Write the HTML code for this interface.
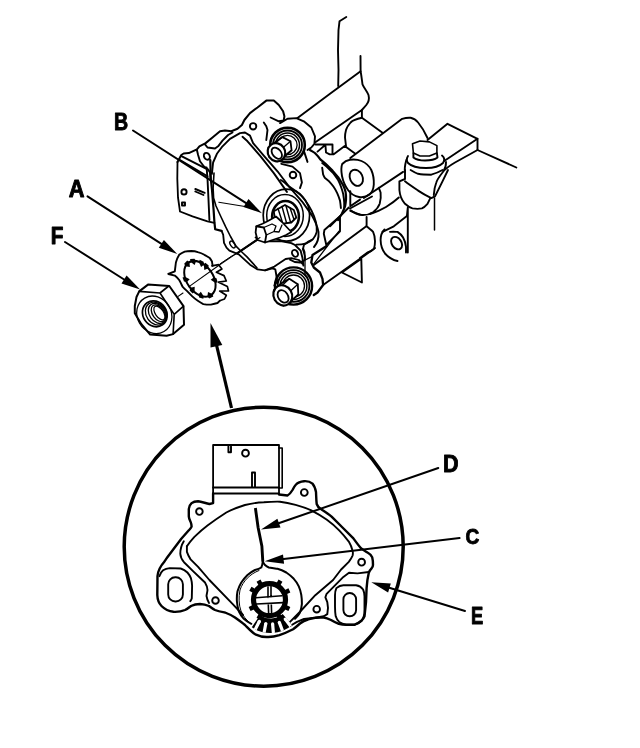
<!DOCTYPE html>
<html><head><meta charset="utf-8"><style>
html,body{margin:0;padding:0;background:#fff;width:640px;height:748px;overflow:hidden}
svg{display:block}
text{font-family:"Liberation Sans",sans-serif;font-weight:bold;font-size:100px;fill:#000;stroke:#000;stroke-width:4px;stroke-linejoin:round}
</style></head><body>
<svg width="640" height="748" viewBox="0 0 640 748">
<rect width="640" height="748" fill="#fff"/>
<g fill="none" stroke="#000" stroke-linejoin="round" stroke-linecap="round">
<circle cx="263.7" cy="546.7" r="139.5" stroke-width="3.5"/>
<g id="inset" stroke-width="1.9">
<!-- connector -->
<path d="M213.1 494 V445 H279 V493.5" stroke-width="1.8"/>
<path d="M213.1 487.5 H279 M213.1 493.5 H279"/>
<path d="M279 448 H282.2 V488 H279" stroke-width="1.6"/>
<path d="M228.4 452 V446.5 M231 452 V446.5 M228.4 452.3 H231"/>
<circle cx="245.5" cy="453.2" r="3.4"/>
<path d="M252 487 V472.5 H255 V487"/>
<!-- housing outline -->
<path stroke-width="2.4" d="M213.1 493.5 L213.1 503.1 L209.4 504 C205 503 201 501.5 198.1 501.3 C195 501.3 193 502 191.6 503.1 C189.5 505 188.8 506.5 188.8 509 L188.8 516.3 C189 519 190 520.5 190.6 521.9 C191.3 523.5 191.6 525 191.6 526.6 C191 528 190 529 188.8 530.3 L181.3 538.8 L170 553.8 C167.5 557 166 559 164.5 561.5 C160.5 566 158 570.5 157.5 576 L157.3 595 C157.5 600 159 603.5 161.5 606 C164.5 609 168.5 611.2 173.5 611.8 C177.5 612 181.5 611.5 185 610 C187.5 608.8 189.3 607.2 191 606 C194 604.5 197 604 200 604 C203.5 604.2 206.5 605 209 606 C211 607.5 213 609 215 610 C218.5 611.5 222 612 225 612.5 C229 614 232 615.5 235 617.5 C238.5 620 242 622.5 245 625 C248.5 628.5 251.5 632 255.3 634.3 C259 636 263 637 266.5 637 C271 637.3 275 636.6 279.4 635.2 C284 633.5 288.5 631.5 293.1 629.2 C295.5 627.5 297.8 625.5 300 623.5 C302.5 621.5 305 620.2 308 619.5 C310.5 618.5 313 618 315.3 617.7 C318 617.4 321 617.4 323.8 617.5 C326.5 618 328.8 619 331 620 C333.5 621.5 336 622.8 338.8 623.8 C341.5 624.5 344 624.7 346.3 624.7 C349 624.8 352 624.8 354.7 624.7 C357.5 623.5 360 622 361.7 620.5 C363.2 619 364 617.5 364.5 616.3 L366 602.2 L366.6 588.1 C367 582 368 576 368.8 572.7 C369.5 571 370.5 569.5 371.6 568.4 C372.5 567.2 373 566 373 565 C373 562.5 372.8 559.5 372.2 557.2 C371 555 369.3 553.5 367.5 552.5 C365.5 551.2 363.3 550 361.3 548.6 C358.5 545.5 356 542 353.4 538.4 L342.5 527.5 L331.6 516.6 C328 513.5 324 511 320.6 508.8 C318.5 507.5 317.2 505.5 316.7 504 C316.2 500 316.2 495.5 316 492 C315.2 488 314.2 485.5 312.5 483.6 C310 481.5 307 481 304 481.2 C300 481.5 297.5 482.8 296 484.5 C294.5 486 293.5 488 292.5 490 C291 492.5 289.5 494.5 287.5 495.5 L279 494.5"/>
<circle cx="199.4" cy="511.6" r="3.3"/>
<circle cx="304.3" cy="492.5" r="3.4"/>
<circle cx="361.6" cy="562.2" r="3.4"/>
<circle cx="316.7" cy="609.2" r="3.3"/>
<circle cx="215.5" cy="600.5" r="3.3"/>
<!-- left lobe boss -->
<path d="M159.4 576.2 C160.5 573.5 161.5 571.5 163.1 570.3 C165 569 167.2 568.3 169.7 568.1 L180.7 568.5 C183.5 569.3 185.6 570.7 187.4 572.5 C189 574.3 190.3 576.3 191 578.4 C191.7 580.8 192 583.2 192.1 585.7 L191.8 598.2 C191.5 599.3 191 600.3 190.3 601.2" stroke-width="1.9"/>
<rect x="168.2" y="577.3" width="14.7" height="24.2" rx="7" ry="7"/>
<!-- right lobe boss -->
<path d="M336.4 588.1 C338.5 586.3 341 585.3 343.4 585.3 L356.1 585.3 C359 585.8 361.5 587.3 363.1 589.5 C364 591.5 364.5 594 364.5 596.6 L364.5 613.4 C364 616.5 363 618.8 361.7 620.5 C359.5 622.8 357 624 354.7 624.7 L346.3 624.7 C343.5 624.2 341 623.2 339.2 621.9 C337.5 620.2 336.3 618.3 335.7 616.3 C335.2 613 335 609.5 335 606.4 L335 595.2 C335 592.5 335.5 590 336.4 588.1 Z"/>
<rect x="343.4" y="593" width="12.7" height="23.3" rx="6.3" ry="6.3"/>
<!-- rims -->
<path d="M290 626 L297 621.9 L304 619 L315.3 617.7 L323.8 616.3 L327.3 614.1 L328 607.8 L327.3 602.2 L325.4 597.3 L326.6 593.8 L335 585.3 L343.4 576.9 L349 572.7 L357.5 573.4 L368.8 572"/>
<path d="M183.8 541.3 C181.5 545 180.3 549.5 180.3 553.8 C180.5 557 182 560 184 562.2 L192.5 570.6 L205 582.5 C206.5 585 207.5 587.5 207.5 590 C207.3 592.5 206.5 594.5 206.5 596 C207 599 208 601.5 209 603"/>
<!-- sector plate -->
<path d="M186.9 546.3 C189 543 191.5 540 194.4 536.9 C198.5 533 203 529 207.5 525.6 C213.5 521 220 516.5 226.3 512.5 C232.5 509.3 238.5 507 245 505 C251 503.5 257.5 502.5 263.8 502.2 C269.5 501.8 275 501.6 280 501.7 C285.5 502.3 290.5 503.4 295.6 504.8 C301 506.3 306 508 311.3 510.3 C316.5 513 321.8 516 326.9 519.7 C331.5 523 335.5 526.5 339.4 530.6 C343 534.3 346 538 348.8 541.6 C350.5 544.5 351.8 547.5 352.6 550.9 C353 552.5 353 554 352.6 555.6 C351.5 558 350.3 560 348.8 561.9 L340.9 569.7 L333.1 580 L315.3 595.2 L299.8 612 L290 621.9"/>
<path d="M186.9 546.3 L186.9 551.9 C187.8 554.5 189 557 190.6 559.4 L198.1 566.9 L209.4 580 L232.5 603.8 L243 615"/>
<!-- pointer -->
<path d="M255.4 508 L258.1 527.5 L261.9 546.3 L262.8 561.3" stroke-width="2.9" stroke-linecap="butt"/>
<!-- gear -->
<path d="M262.8 561.3 C262.5 564 262 566 261.3 567.5 C259 569 257 569.5 255 570 C252 571.5 249.8 573 247.5 575 C245 577.5 243 580 241.3 582.5 C239.5 585.5 238.3 588.5 237.5 591.3 C236.9 594.5 236.7 598 236.9 601.3 C237.2 605 237.9 608.5 238.8 611.3 C240 614 241.8 616.5 243.8 618.8 C246 620.8 248.5 622.5 251.3 623.8" stroke-width="2"/>
<path d="M259 570.5 C250 574 243 581 240 590 C238.5 597 238.8 605 241 611 C243 616 246 619.5 249 622" stroke-width="1"/>
<path d="M262.8 561.3 C263.5 563 264.2 564.2 265 565 C266.2 566.2 267.5 567 268.8 567.5 C272 568.2 275 568.5 277.5 568.8 C280.5 569.7 283.5 571 286.3 572.5 C289 574.3 291.5 576.5 293.8 578.8 C295.8 581 297.5 583.5 298.8 586.3 C300 589 300.8 592 301.3 595 C301.8 598 301.9 601 301.9 603.8 C301.6 606.8 301 609.8 300 612.5 C298.8 614.8 297 617 295 618.8" stroke-width="2"/>
<circle cx="269.5" cy="599.7" r="16" stroke-width="5.2"/>
<path d="M254.8 591.2 L250.4 588.7 M261.0 585.0 L258.5 580.6 M278.0 585.0 L280.5 580.6 M284.9 592.5 L289.4 590.4 M284.9 606.9 L289.4 609.0 M278.0 614.4 L280.5 618.8 M261.0 614.4 L258.5 618.8 M254.1 606.9 L249.6 609.0" stroke-width="4.5" stroke-linecap="butt"/>
<path d="M256 597.8 L282 595.8 M256.5 604 L283 602.6 M268 587 L268 597.5 M271 586.5 L271 597 M268.3 604 L268.6 613 M271.3 603.8 L271.6 613" stroke-width="1.6"/>
<path fill="#000" stroke="none" d="M292.0 625.2 A33.5 33.5 0 0 1 251.8 627.3 L259.9 615.3 A19 19 0 0 0 282.7 614.1 Z"/>
<path stroke="#fff" stroke-width="3.2" stroke-linecap="butt" d="M285.2 619.1 L290.7 626.3 M279.3 622.4 L282.5 630.9 M272.6 623.9 L273.4 633.0 M265.8 623.5 L264.1 632.5 M259.4 621.3 L255.2 629.4"/><circle cx="285.2" cy="619.1" r="1.6" fill="#fff" stroke="none"/><circle cx="279.3" cy="622.4" r="1.6" fill="#fff" stroke="none"/><circle cx="272.6" cy="623.9" r="1.6" fill="#fff" stroke="none"/><circle cx="265.8" cy="623.5" r="1.6" fill="#fff" stroke="none"/><circle cx="259.4" cy="621.3" r="1.6" fill="#fff" stroke="none"/>
</g>

<!-- ENGINE -->
<g id="engine" fill="none" stroke="#000" stroke-linejoin="round" stroke-linecap="round" stroke-width="1.9">
<!-- back block top -->
<path d="M346.3 17 L339.5 21.3 L338.5 30 L338 50 L338.5 70 L338.2 86"/>
<path d="M360.5 56 L360.6 71.3"/>
<!-- upper tube -->
<path d="M297.5 118.1 L330 93.8 L360.6 71.3 C361.5 76 362 81 362.5 84.4 C364 88 367 91 368.5 95 C369.5 99 368 103 366.3 105 L361.9 110"/>
<path d="M315 142.5 L361.9 110 L361.9 117.8 L382.5 132.8"/>
<path d="M361.9 117.8 C356 119 352.5 120.5 350.6 122.5 C348 125.5 346.5 128 346 130 C345.2 133 345 135 345 137.5 L346 146"/>
<!-- step -->
<path d="M315.6 144.5 L332.5 144.5 L332.5 154.4 M325.5 146 L326 152.5 L329.7 154.4 L333.4 154.4 L344.7 146 L355 153.4 M317.5 151.6 L324 146"/>
<!-- second tube -->
<path d="M350.3 158.1 L402.2 118.8 C405 118 408 117.6 410.6 117.8 C414 118.5 416.5 120.5 418.1 122.5 C421 126 424 130 427.5 138"/>
<path d="M363.8 198 L403.1 171.9"/>
<path d="M342.2 164 C344.5 161.5 347 160.2 350 159.7 C354 159.2 358 159.5 361.5 161 C366 163 369.5 166.5 371.3 170 C373.5 175 374 180 373.8 184.5 C373.5 189 372 192.5 369.5 194.5 C366.5 197 362.5 197.5 359 197 C354.5 196.3 350.5 193.5 348 190 C345 186 343 181 342 176 C341.2 171.5 341 167 342.2 164 Z"/>
<ellipse cx="356.3" cy="177.8" rx="6.3" ry="8.4" transform="rotate(-25 356.3 177.8)"/>
<!-- crescent lower piece -->
<path d="M370 214 C376 212 381 210 386 207 C390 204.5 394 202 398.8 197.5"/>
<path d="M350.6 210.3 C354 213 358 214.7 361.9 215 C366 215.2 370 214.2 373.1 212.2 C376.5 209.5 378.8 206.5 379.7 203.8 C380.8 200 381 196 380.6 192.5 L378.8 187.8"/>
<path d="M350 208.5 L372 196.5"/>
<!-- housing side bands -->
<path d="M303.8 150.6 L307.5 161.9"/>
<path d="M310 150 C312 151.3 314 152.3 315.6 153.7 C317.5 155.5 319 157.5 320.3 159.4 C322 161 324 162.5 325.9 164 L332.5 170.6 L338.1 177.2 C340 180 341.5 182.5 342.8 184.6 C344 187 345 189.5 345.6 192.1 C346 194.5 346.1 197 346 199.6 C345.8 202 345.5 204 345.1 206.2 C344.2 209 343 211.5 341.8 213.7 L338.1 220" stroke-width="2.2"/>
<path d="M322.2 163.1 C324 164.5 326 166 327.8 167.8 L333.4 173.4 C335 175.5 336.6 177.7 338.1 180 C339.2 182 340.1 184.2 340.9 186.5 C341.8 189 342.6 191.5 343.2 194 C343.7 197 344.1 199.5 344.2 202.4 L344.2 208"/>
<path d="M322.2 167.8 L323.1 174.3 C323.6 175.5 324.2 177 325 178.1 C326.2 179 327.5 180 328.7 180.9 C330.3 182.7 332 184.5 333.4 186.5 C334.8 188.5 336.1 190.8 337.2 193.1 C338.3 195.5 339.2 198 340 200.6 C340.4 203 340.7 205.5 340.9 208"/>
<path d="M350.3 191.2 L350.3 206.2 L360 199.6 M350.3 210.9 L360 214.6"/>
<path d="M330 226.3 L348.8 207.5"/>
<path d="M324.4 230 L340 216.3 L340 231.3 L326.3 245 M324.4 230 L323.8 233.8 L326.3 245"/>
<!-- lower tube -->
<path d="M313.8 265 L366.3 226.3"/><path d="M313.8 263.8 L338.8 231.3" stroke-width="1.3"/>
<path d="M366.6 216.9 L366.6 226.3 C369 228.5 371.5 230 373.1 231.9 C374.3 234.5 375 238 375 241.3 C375 244 374.7 246.5 374 248.8 C372 250.8 369.5 252 367.5 252.5 L360 258.1"/>
<path d="M323.8 284.4 L375 248.1"/>
<path d="M341.9 272.5 L361.3 258.8 L361.9 282.5 Z"/>
<!-- boss with hole right -->
<path d="M382.5 231.9 L393.8 226.3 L406.9 216 L407.8 207.5 L407.8 252.5"/>
<path d="M384.5 229.5 C382 232 380.6 236 380.6 240 C380.7 245 382 249.5 385 253.5 C389 258 393 260 397.5 261"/>
<path d="M390 231.9 C393 231.5 395.5 231.8 397.5 231.9 C400 233.5 402 235.5 403.1 237.5 C404.8 240.5 405.7 243.5 406 246.9 L406 252.5"/>
<ellipse cx="396.6" cy="243.1" rx="4.8" ry="6.8" transform="rotate(-35 396.6 243.1)"/>
<path d="M434.5 198 L434.5 230" stroke-width="1.5"/>
<!-- right bolt cylinder -->
<path d="M405 170 L405 179 L399.4 181.3 L399.4 190 C399.8 195 401.5 200 405 203.8 C408 206.5 410 207.8 412.5 208.4 C416 209 419 209 421.9 208.4 C424 207.5 426 205.5 427.5 203.8 L430.3 198.1"/>
<path d="M405 181.3 C409 184.5 413.5 187.5 418.1 190.6 C422.5 193.5 427 196 431.3 198.1 L435 196.3 L442.5 181.3 L448 170"/>
<path d="M410.6 170 C413 171.5 415.5 173 418.1 173.8 C422.5 174.7 427 174.7 431.3 174.7 C435.5 173.5 439 172 442.5 170"/>
<!-- right bracket -->
<path d="M427.5 140 L447.5 123.8 L477.5 138.8 L477.5 150 L516.3 167.5"/>
<path d="M477.5 138.8 L443.8 161.3"/>
<path d="M477.5 150 L455 162.5 C449 166 445 169 442.5 172.5 C439 177 437 180 436.3 182.5 C434.5 187 434 191 433.8 195"/>
<!-- upper right bolt -->
<path d="M412.5 143.8 L420 141 L429.4 141.9 L436.9 145.6 L436.9 153.1 L429.4 156 L420 156 L413.4 153.1 Z" stroke-width="1.6"/>
<path d="M413.4 153.1 L413.4 157.5 C416 159.5 420 160.5 425 160.5 C430 160.5 435 159.5 437.5 157.5 L436.9 153.1"/>
<path d="M408 156 C406.5 158.5 406.5 161 408 163 C411 166 417 168 426 168 C434 168 440 166 443 163 C445 160 444.5 157.5 442 155.5"/>
<path d="M406.3 160 C405 165 404.5 170 405 172 M446 162 C446 165 445.5 168 444 170"/>
<!-- top boss of second tube (left side arc) -->
<!-- housing outer outline -->
<path stroke-width="2" d="M177.5 162 L181.3 155 L183.6 153.5 L188.8 153.1 L196.9 149.4 L199.4 146.3 L205.6 143.1 L212.5 137.5 L220 131.3 L225 130.6 L231.3 131.3 L237.5 128.8 L241.9 125 L244.4 120 L250 113.1 L257.5 107.5 L266.3 100.6 L273.8 100.6 L278.8 105 L283.1 111.3 L284.4 116.3 L283.8 120"/>
<path d="M205 144.4 L207.5 147.5 L215 148.5 L218.1 146.3 L222.5 140.6 L228.1 135 L232.5 132.5"/>
<path d="M270.6 117.5 L278.8 121.3 L282.5 120.6"/>
<path d="M263.8 122.5 L266.3 126.3 L267.5 130 L266.3 140"/>
<ellipse cx="206.9" cy="156.3" rx="2.8" ry="3.6" transform="rotate(-30 206.9 156.3)"/>
<circle cx="253.1" cy="126.3" r="3.2"/>
<circle cx="293" cy="175" r="3.3"/>
<ellipse cx="295" cy="253.4" rx="2.8" ry="3.6" transform="rotate(-30 295 253.4)"/>
<!-- left lobe contour -->
<path d="M196.9 150 L198.1 155 L200 161.3 L203.8 166.3 L208.1 169.4 L210 172.5 L210.6 180"/>
<!-- face borders -->
<path d="M211.9 173.8 L213.1 162.5 L216.9 153.8 L222.5 146.3 L230 138.8 L240 133.1 L245 132.5 L250 135.6 L253.1 143.1 L264.4 156.3 L277.5 171.3 L288.8 186.3 L301.9 201.3 L311.3 214.4"/>
<path d="M242.5 136.8 L247.5 141.3 L260.6 156.3 L273.8 173.1 L286.9 191.9"/>
<path d="M210.3 160 L210.8 178.8 L212 190 L213.6 210 L214.4 222 L215.2 229.3 L221.6 230.9" stroke-width="2.2"/>
<path d="M214 173 L213.1 188.1 L213.6 198 L216 206 L220.8 216.5 L225.7 226.9 L230.5 236.5 L236 246.1 L241.3 251.5 L247 256.9 L256.9 267.8" stroke-width="1.6"/><ellipse cx="232.5" cy="244.5" rx="2" ry="3.8" transform="rotate(-35 232.5 244.5)" stroke-width="1.4"/>
<path d="M218.8 202.2 L248 207" stroke-width="1.1"/>
<!-- connector box -->
<path d="M177.5 162 L177.3 178.8 L178 197.5 L180 211.5 L192.5 216.3 L207.5 221.3 L214.4 222.9 M221.6 230.9 L223.2 234.9 L224 242.9 L226.5 247.7 L229.4 250.6 L238.8 254.4 L250 264.7 L257.5 269.4 L265 270.3 L274.4 266.6 L285.6 259 L291.3 258.1 L298.8 260 L302.5 263.8" stroke-width="1.8"/>
<path d="M206.6 167.5 L207.5 178.8 L208.4 197.5 L209.4 220"/>
<path d="M181.9 156.3 L207.5 169.4 M180 160 L207.5 176.3"/>
<circle cx="184" cy="191.9" r="2.6"/>
<rect x="182" y="202.5" width="3" height="3"/>
<path d="M195.3 189 L204.7 192.8 M195.3 191.5 L203.5 195"/>
<!-- face bottom line 4 -->
<path d="M255.6 237.5 L266.9 241.3 L281.9 241.3 L291.3 243.1 L295 245 L300.6 250.6 L302.5 258.1 L303.4 265.6"/>
<path d="M237 253.4 L257.5 239.4"/>
<!-- face right edge near shaft -->
<path d="M311.3 214.4 C314.5 220 317.5 226 318.5 232 C319 238 317.5 243 314 247"/>
<path d="M290 259.7 L294.7 262 L300.3 262.5 L305 259.7 L304.5 252.2 L303.1 248.4 L304 244.7 L308.8 241.4 L311.6 240"/><path stroke-width="2.3" d="M326.3 246.3 L312.5 255 L311.3 262.5 L313.8 267.5 L320 272.5 L322.5 278.8 L323.1 285 L317.5 292.5 L313.8 295"/>
<!-- upper bolt -->
<path d="M280 123.1 L287.5 118.8 L296.3 118.1 L303.8 121.3 L311.3 127.5 L315 136.3 L314.4 143.8 L311.3 147.5 L307.5 150"/>
<path d="M281.3 163.8 L292.5 166.6 L300 173.1 L301.9 182.5 L300 188.1"/>
<circle cx="287.5" cy="145" r="17.3" stroke-width="2.6"/>
<circle cx="287.5" cy="145" r="14.5" stroke-width="1.8"/>
<circle cx="287.5" cy="145" r="12" stroke-width="1.5"/>
<circle cx="287.5" cy="145" r="9.6" stroke-width="1.3"/>
<path fill="#fff" stroke-width="1.8" d="M268.4 148.1 L275.4 142.1 L282.4 137.1 L290.5 141.3 L291.6 150.3 L284.6 156.3 L277.6 161.3 L269.5 157.1 Z"/>
<path d="M283.5 147.3 L290.5 141.3" stroke-width="1.3"/>
<path d="M284.6 156.3 L291.6 150.3" stroke-width="1.3"/>
<path d="M277.6 161.3 L284.6 155.3" stroke-width="1.3"/>
<path d="M269.5 157.1 L276.5 151.1" stroke-width="1.3"/>
<path d="M268.4 148.1 L275.4 142.1" stroke-width="1.3"/>
<path d="M275.4 143.1 L282.4 137.1" stroke-width="1.3"/>
<ellipse fill="#fff" cx="276.5" cy="152.2" rx="8.6" ry="9.3" transform="rotate(-35 276.5 152.2)" stroke-width="2.2"/>
<ellipse cx="276.8" cy="153.2" rx="4.2" ry="6.4" transform="rotate(-40 276.8 153.2)" stroke-width="1.8"/>
<!-- lower bolt -->
<path d="M265 270.3 L272.5 268.4 L275.3 269.4 L276.3 275 L277.2 281.6 L274.4 285.3"/>
<path d="M302.5 248.8 L305 256.3 L305 275 L307.5 277.5 M300 262.5 L312.5 256.3" stroke-width="1.3"/>
<circle cx="293.5" cy="286" r="18.6" stroke-width="2.4"/>
<circle cx="293.5" cy="286" r="15.9" stroke-width="1.8"/>
<circle cx="293.5" cy="286" r="13.4" stroke-width="1.5"/>
<circle cx="293.5" cy="286" r="11" stroke-width="1.3"/>
<path fill="#fff" stroke-width="1.8" d="M274.3 289.9 L281.3 283.4 L289.3 278.8 L297.8 284.3 L298.3 294.4 L291.3 300.9 L283.3 305.5 L274.8 300.0 Z"/>
<path d="M290.8 290.8 L297.8 284.3" stroke-width="1.3"/>
<path d="M291.3 300.9 L298.3 294.4" stroke-width="1.3"/>
<path d="M283.3 305.5 L290.3 299.0" stroke-width="1.3"/>
<path d="M274.8 300.0 L281.8 293.5" stroke-width="1.3"/>
<path d="M274.3 289.9 L281.3 283.4" stroke-width="1.3"/>
<path d="M282.3 285.3 L289.3 278.8" stroke-width="1.3"/>
<ellipse fill="#fff" cx="282.8" cy="295.4" rx="9.2" ry="10.4" transform="rotate(-30 282.8 295.4)" stroke-width="2.2"/>
<ellipse cx="283.1" cy="296.4" rx="4.8" ry="6.8" transform="rotate(-35 283.1 296.4)" stroke-width="1.8"/>
<!-- axis line -->
<path d="M220 263.8 L231.3 256.3 L240.6 251.6 L258 240" stroke-width="1"/>
<!-- shaft assembly -->
<path d="M280.8 180 C283.5 181.5 285.8 183.5 287.8 185.6 C290.8 187.8 293.5 189.5 296.3 191.3 C299.5 193.8 302.3 196.7 304.7 199.7 C307.5 203.3 309.8 207 311.7 211 C313.5 214.6 315 218.4 316 222.2 C316.7 225.5 316.9 228.8 316.7 232 C316 234.6 314.8 237 313.1 239 C311 241 308.7 242.3 306.1 243.3 C303 244.2 299.7 244.6 296.3 244.7" stroke-width="1.8"/>
<ellipse cx="286.4" cy="215.2" rx="23.2" ry="26" stroke-width="1.7"/>
<ellipse cx="285" cy="215.5" rx="18.3" ry="21" stroke-width="1.5"/>
<ellipse cx="285.5" cy="216.6" rx="13.4" ry="15.5" stroke-width="2.5"/>
<path fill="#fff" d="M273.8 211.3 L285 205 L293.8 210 L296.3 217.5 L291.3 222.5 L281.3 223.8 L275 218.8 Z" stroke-width="1.8"/>
<path d="M278 208.5 L282.5 222.5 M282 206.5 L286.5 222.8 M286 206 L290.5 222 M290 207.8 L294 219.5" stroke-width="1.4"/>
<path fill="#fff" d="M256.3 226.3 L262.5 223.8 L267.5 221.3 L276 216.5 L282 222 L291.3 232 L286 235 L280 237.5 L265 242.5 Z" stroke-width="1.7"/>
<path fill="#fff" d="M256.3 226.3 L255.6 232.5 L257.5 240 L265 242.5 L266.3 235 L263.8 227.5 Z" stroke-width="1.8"/>
<path d="M263.8 227.5 L272 224 M266.3 235 L274 231.5 L276 226 L272 224 M274 231.5 L279 232 L282 225" stroke-width="1.3"/>
</g>
<g id="parts" stroke-width="1.9">
<!-- part A (lock plate) -->
<path stroke-width="1.9" d="M212.6 265.8 C212.3 263.5 212 262.3 212 261.4 C211 259.8 210.5 259 209.8 258.1 C208 256.8 206.3 255.8 204.4 254.8 C202.3 253.6 200 252.7 197.8 252.1 C195.6 251.4 193.4 251.1 191.3 251 C189 251 186.8 251.1 184.7 251.6 C182.5 252.5 180.6 253.5 179.2 254.8 C177.5 257.5 176.5 260 175.9 262.5 L174.8 271.3 L168.3 274 L174.8 275.6 C176.5 277 178 278.5 179.2 280 C180.5 282.2 181.5 284.5 182.5 286.6 C184 288.2 185.5 289.6 186.9 290.9 L192.3 296.4 C194 298 195.9 299.5 197.8 300.8 C199.6 302 201.4 303.2 203.3 304.1 C205.8 304.5 208.4 304.7 210.9 304.6 C213.1 304.2 215.4 303.7 217.5 303 L219.7 300.8"/>
<ellipse cx="199.9" cy="278.8" rx="13.2" ry="19.8" transform="rotate(-35.3 199.9 278.8)" stroke-width="2"/>
<g fill="#000" stroke="none">
<path d="M187.2 260.5 L189.4 262.1 L189.9 267.0 L185.5 266.2 L184.2 263.7 Z"/><path d="M194.5 258.7 L196.0 261.2 L194.6 264.9 L190.5 261.7 L190.1 259.1 Z"/><path d="M203.6 261.7 L203.9 264.7 L201.1 267.1 L198.9 262.1 L199.7 259.7 Z"/><path d="M208.7 265.6 L208.0 268.4 L204.3 269.9 L203.8 264.7 L205.4 262.7 Z"/><path d="M182.5 277.4 L185.0 276.7 L189.7 279.2 L186.9 282.0 L184.0 281.5 Z"/><path d="M217.7 282.4 L215.1 282.8 L210.7 279.7 L213.7 277.4 L216.5 278.2 Z"/><path d="M189.6 290.5 L190.6 287.8 L194.7 286.7 L194.6 291.8 L192.7 293.6 Z"/><path d="M199.1 297.4 L198.4 294.5 L200.8 291.7 L203.7 296.3 L203.3 298.8 Z"/><path d="M209.3 298.5 L207.4 296.5 L208.0 292.1 L212.4 294.0 L213.3 296.6 Z"/>
</g>
<path d="M212 265.8 L218.6 264.7 L221.9 269 L216.4 272.3 L224 275.6 L226.3 281 L218.6 282.2 L227.4 286.6 L228.5 291 L219.7 291 L226.3 295.3 L224.5 299 L219.7 300.8" stroke-width="1.7"/>
<path d="M189 286.6 L219.7 264.7 L260 237.5 M178.1 296.4 L183 293" stroke-width="1.1"/>
<!-- nut F -->
<path stroke-width="2" d="M139.2 291.4 L148 284.6 L169.3 286 L183.5 306.2 L184 324.8 L173.1 334.1 L166.6 335.7 L150.2 334.6 L141.4 324.2 L134.8 313.3 L134.8 306 L136.5 297 Z"/>
<path d="M139.2 291.4 L160 293 L174.2 314.4 L173.1 334.1 M174.2 314.4 L183.5 306.2 M160 293 L168.8 286" stroke-width="1.6"/>
<ellipse cx="154.3" cy="314.8" rx="17" ry="19.3" transform="rotate(-30 154.3 314.8)" stroke-width="1.3"/>
<ellipse cx="154.8" cy="313.8" rx="11.8" ry="13.5" transform="rotate(-35 154.8 313.8)" stroke-width="1.7"/>
<ellipse cx="156" cy="313.6" rx="9.8" ry="12.2" transform="rotate(-35 156 313.6)" stroke-width="1.3"/>
<ellipse cx="157.2" cy="313.4" rx="7.8" ry="10.8" transform="rotate(-35 157.2 313.4)" stroke-width="1.3"/>
<ellipse cx="158.4" cy="313.2" rx="5.8" ry="9.4" transform="rotate(-35 158.4 313.2)" stroke-width="1.3"/>
<ellipse cx="159.4" cy="313" rx="4.0" ry="7.8" transform="rotate(-35 159.4 313)" stroke-width="1.2"/>
</g>

<path d="M438.3 468.0 L277.1 523.8" stroke-width="2"/><path d="M459.6 538.0 L281.6 559.3" stroke-width="2"/><path d="M465.0 611.0 L387.6 587.3" stroke-width="2"/><path d="M133.0 130.5 L247.7 204.1" stroke-width="2"/><path d="M87.5 196.3 L163.0 244.9" stroke-width="2"/><path d="M65.0 242.0 L125.7 280.5" stroke-width="2"/>
<path d="M231.5 408 L216.5 345" stroke-width="3.2" stroke-linecap="butt"/>
</g>
<g fill="#000" stroke="none">
<path d="M261.0 529.4 L277.4 518.7 L280.5 527.6 Z"/><path d="M264.7 561.3 L283.0 554.4 L284.1 563.7 Z"/><path d="M371.3 582.3 L390.8 583.4 L388.1 592.4 Z"/><path d="M262.0 213.3 L243.5 207.0 L248.5 199.1 Z"/><path d="M177.3 254.1 L158.8 247.8 L163.9 239.9 Z"/><path d="M140.1 289.6 L121.5 283.4 L126.6 275.5 Z"/>
<path d="M210.5 323 L210.5 347.5 L222.3 345 Z"/>
</g>
<g style="filter:grayscale(1)"><text x="0" y="0" transform="translate(114.02,130.44) scale(0.1962,0.2315)">B</text>
<text x="0" y="0" transform="translate(68.63,196.56) scale(0.2179,0.2361)">A</text>
<text x="0" y="0" transform="translate(50.76,244.34) scale(0.2074,0.2315)">F</text>
<text x="0" y="0" transform="translate(442.92,472.43) scale(0.2154,0.2329)">D</text>
<text x="0" y="0" transform="translate(465.52,544.12) scale(0.1913,0.2253)">C</text>
<text x="0" y="0" transform="translate(471.08,624.43) scale(0.1833,0.2342)">E</text>
</g>
</svg>
</body></html>
